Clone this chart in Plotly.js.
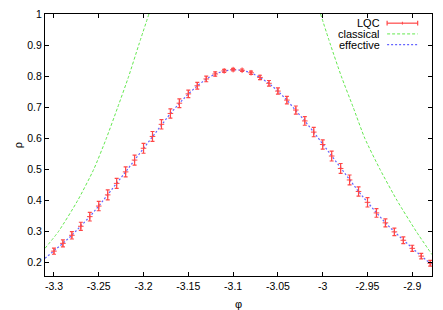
<!DOCTYPE html>
<html>
<head>
<meta charset="utf-8">
<script src="https://cdn.plot.ly/plotly-3.0.1.min.js"></script>
<style>html,body{margin:0;padding:0;background:#fff;}#chart{width:443px;height:310px;}</style>
</head>
<body>
<div id="chart"></div>
<script>
// LQC data (phi, rho, error)
const phiLQC = [-3.30,-3.29,-3.28,-3.27,-3.26,-3.25,-3.24,-3.23,-3.22,-3.21,-3.20,-3.19,-3.18,-3.17,-3.16,-3.15,-3.14,-3.13,-3.12,-3.11,-3.10,-3.09,-3.08,-3.07,-3.06,-3.05,-3.04,-3.03,-3.02,-3.01,-3.00,-2.99,-2.98,-2.97,-2.96,-2.95,-2.94,-2.93,-2.92,-2.91,-2.90,-2.89,-2.88];
const rhoLQC = [0.237,0.262,0.288,0.317,0.348,0.382,0.418,0.455,0.492,0.530,0.568,0.606,0.645,0.680,0.713,0.743,0.769,0.791,0.807,0.817,0.821,0.819,0.811,0.796,0.777,0.752,0.723,0.691,0.656,0.620,0.580,0.543,0.503,0.466,0.429,0.394,0.360,0.328,0.299,0.272,0.246,0.221,0.198];
const errLQC = [0.010,0.011,0.012,0.013,0.014,0.015,0.016,0.016,0.016,0.016,0.016,0.016,0.015,0.015,0.014,0.012,0.011,0.009,0.007,0.005,0.004,0.004,0.005,0.007,0.009,0.010,0.012,0.013,0.014,0.015,0.015,0.016,0.016,0.016,0.015,0.015,0.014,0.013,0.012,0.011,0.010,0.009,0.009];

// effective curve
const phiEff = [-3.31,-3.30,-3.29,-3.28,-3.27,-3.26,-3.25,-3.24,-3.23,-3.22,-3.21,-3.20,-3.19,-3.18,-3.17,-3.16,-3.15,-3.14,-3.13,-3.12,-3.11,-3.10,-3.09,-3.08,-3.07,-3.06,-3.05,-3.04,-3.03,-3.02,-3.01,-3.00,-2.99,-2.98,-2.97,-2.96,-2.95,-2.94,-2.93,-2.92,-2.91,-2.90,-2.89,-2.88,-2.878];
const rhoEff = [0.214,0.237,0.262,0.288,0.317,0.348,0.382,0.418,0.455,0.492,0.530,0.568,0.606,0.644,0.680,0.713,0.743,0.769,0.791,0.807,0.817,0.821,0.819,0.811,0.796,0.777,0.752,0.723,0.691,0.656,0.620,0.581,0.543,0.504,0.466,0.429,0.394,0.360,0.328,0.299,0.272,0.246,0.221,0.198,0.194];

// classical curve (two branches)
const phiClassL = [-3.31,-3.295,-3.2735,-3.2556,-3.2415,-3.2288,-3.2165,-3.2054,-3.194];
const rhoClassL = [0.246,0.300,0.400,0.500,0.600,0.700,0.800,0.900,1.000];
const phiClassR = [-3.0024,-2.9912,-2.9793,-2.966,-2.953,-2.936,-2.917,-2.8955,-2.878];
const rhoClassR = [1.000,0.900,0.800,0.700,0.600,0.500,0.400,0.300,0.226];

// ticks
const xTicks = [-3.3,-3.25,-3.2,-3.15,-3.1,-3.05,-3.0,-2.95,-2.9];
const xTickText = ['-3.3','-3.25','-3.2','-3.15','-3.1','-3.05','-3','-2.95','-2.9'];
const yTicks = [0.2,0.3,0.4,0.5,0.6,0.7,0.8,0.9,1.0];
const yTickText = ['0.2','0.3','0.4','0.5','0.6','0.7','0.8','0.9','1'];

const legendNames = ['LQC','classical','effective'];

const RED = 'rgb(255,70,70)';
const GREEN = 'rgb(100,232,80)';
const BLUE = 'rgb(100,100,255)';
const FAMILY = 'Liberation Sans, Arial, sans-serif';
const FONT = {family:FAMILY, size:10.5, color:'#000'};

const traces = [
  {x: phiClassL.concat([null], phiClassR), y: rhoClassL.concat([null], rhoClassR),
   mode:'lines', name:legendNames[1], connectgaps:false,
   line:{color:GREEN, width:1, dash:'3px,2px', shape:'spline', smoothing:0.6}},
  {x: phiEff, y: rhoEff, mode:'lines', name:legendNames[2],
   line:{color:BLUE, width:1.2, dash:'2px,2px'}},
  {x: phiLQC, y: rhoLQC, mode:'markers', name:legendNames[0],
   marker:{symbol:'cross-thin', size:4, color:RED, line:{color:RED, width:1}},
   error_y:{type:'data', array:errLQC, visible:true, color:RED, thickness:1.2, width:2}}
];

// legend built from annotations + sample shapes (text right-aligned, sample on the right, like gnuplot)
const legY = [0.965, 0.924, 0.883];
const tx = 0.868, sx0 = 0.884, sx1 = 0.963;
const annotations = legendNames.map((n,i)=>({
  xref:'paper', yref:'paper', x:tx, y:legY[i], text:n, showarrow:false,
  xanchor:'right', yanchor:'middle', borderpad:0, height:12,
  font:{family:FAMILY, size:11, color:'#000'}
}));
const capH = 0.009;
const shapes = [
  {type:'line', xref:'paper', yref:'paper', x0:sx0, x1:sx1, y0:legY[0], y1:legY[0], line:{color:RED, width:1.2}},
  {type:'line', xref:'paper', yref:'paper', x0:sx0, x1:sx0, y0:legY[0]-capH, y1:legY[0]+capH, line:{color:RED, width:1.2}},
  {type:'line', xref:'paper', yref:'paper', x0:sx1, x1:sx1, y0:legY[0]-capH, y1:legY[0]+capH, line:{color:RED, width:1.2}},
  {type:'line', xref:'paper', yref:'paper', x0:(sx0+sx1)/2, x1:(sx0+sx1)/2, y0:legY[0]-capH*0.6, y1:legY[0]+capH*0.6, line:{color:RED, width:1}},
  {type:'line', xref:'paper', yref:'paper', x0:sx0, x1:sx1, y0:legY[1], y1:legY[1], line:{color:GREEN, width:1, dash:'3px,2px'}},
  {type:'line', xref:'paper', yref:'paper', x0:sx0, x1:sx1, y0:legY[2], y1:legY[2], line:{color:BLUE, width:1.2, dash:'2px,2px'}}
];

const axisCommon = {
  showgrid:false, zeroline:false, showline:true, linecolor:'#000', linewidth:1,
  mirror:'allticks', ticks:'inside', ticklen:4, tickwidth:1, tickcolor:'#000',
  tickfont:FONT, automargin:false
};

const layout = {
  width:443, height:310,
  margin:{l:45, r:11, t:14, b:34, pad:0},
  paper_bgcolor:'#fff', plot_bgcolor:'#fff',
  showlegend:false,
  font:FONT,
  xaxis: Object.assign({}, axisCommon, {
    range:[-3.31,-2.878], tickmode:'array', tickvals:xTicks, ticktext:xTickText,
    title:{text:'φ', font:{family:FAMILY, size:11, color:'#000'}, standoff:12}
  }),
  yaxis: Object.assign({}, axisCommon, {
    range:[0.157,1.0], tickmode:'array', tickvals:yTicks, ticktext:yTickText,
    title:{text:'ρ', font:{family:FAMILY, size:11, color:'#000'}, standoff:2}
  }),
  annotations: annotations,
  shapes: shapes
};

Plotly.newPlot('chart', traces, layout, {staticPlot:true, displayModeBar:false});
</script>
</body>
</html>
